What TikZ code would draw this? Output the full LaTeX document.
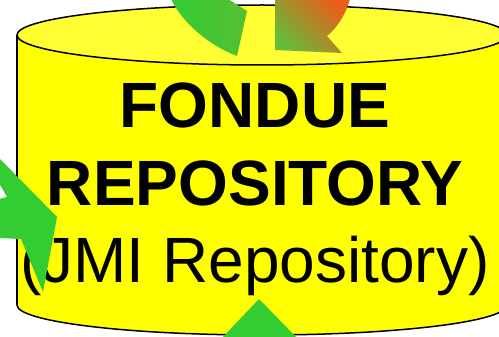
\documentclass[tikz,border=0pt]{standalone}
\usepackage{fontspec}
\setmainfont{Liberation Sans}
\definecolor{repoyellow}{HTML}{FFFF00}
\definecolor{repotop}{HTML}{FFFF33}
\definecolor{flowgreen}{HTML}{33CC33}
\definecolor{flowolive}{HTML}{A8A030}
\definecolor{floworange}{HTML}{E85E1A}
\definecolor{flowlime}{HTML}{66BB3A}

\begin{document}
\begin{tikzpicture}[x=1pt, y=-1pt,
    repoline/.style={line width=1.5pt, black},
    reponame/.style={anchor=base, inner sep=0pt, font=\fontsize{64}{77}\selectfont}]
        \useasboundingbox (0,0) rectangle (499,337);
        \clip (0,0) rectangle (499,337);

        % Draw cylinder body
        \filldraw[repoline, fill=repoyellow] (262,305) ellipse [x radius=245, y radius=30];
        \fill[repoyellow] (17,35) rectangle (507,305);
        \draw[repoline] (17,35) -- (17,305);
        \filldraw[repoline, fill=repotop] (262,35) ellipse [x radius=245, y radius=30];

        % Repository name
        \node[reponame] (fondue) at (255,128) {\bfseries FONDUE};
        \node[reponame] (repository) at (255,205) {\bfseries REPOSITORY};
        \node[reponame] (jmi) at (255,282) {(JMI Repository)};

        % Draw arrows going in and out
        \shade[left color=flowgreen, right color=flowgreen!70!flowolive] (171,-1) .. controls (182,22) and (208,45) .. (237,56) -- (247,11) -- (228,-1) -- cycle;
        \shade[bottom color=flowlime, middle color=flowolive, top color=floworange, shading angle=-45] (275,-1) -- (275,50) -- (342,53) -- (327,36) .. controls (337,28) and (346,14) .. (350,-1) -- cycle;
        \fill[flowgreen] (-1,158) -- (57,217) -- (43,292) -- (21,239) -- (-1,238) -- (-1,199) -- (7,197) -- (-1,183) -- cycle;
        \fill[flowgreen] (222,338) -- (259,299) -- (297,338) -- cycle;
\end{tikzpicture}
\end{document}
